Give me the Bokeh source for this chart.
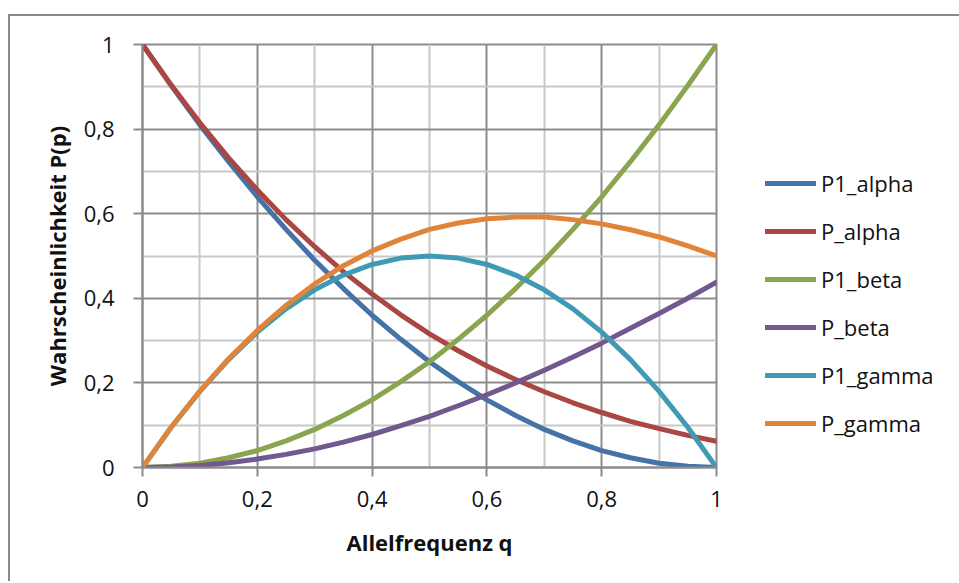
from bokeh.plotting import figure
from bokeh.models import Range1d, FixedTicker, Legend, LegendItem
from bokeh.embed import file_html
from bokeh.resources import INLINE

# ---------------- data ----------------
q = [0.0, 0.05, 0.1, 0.15, 0.2, 0.25, 0.3, 0.35, 0.4, 0.45, 0.5,
     0.55, 0.6, 0.65, 0.7, 0.75, 0.8, 0.85, 0.9, 0.95, 1.0]

p1_alpha = [1.0, 0.903, 0.81, 0.723, 0.64, 0.563, 0.49, 0.423, 0.36, 0.303, 0.25,
            0.203, 0.16, 0.123, 0.09, 0.063, 0.04, 0.023, 0.01, 0.003, 0.0]
p_alpha = [1.0, 0.904, 0.815, 0.732, 0.656, 0.586, 0.522, 0.463, 0.41, 0.361, 0.316,
           0.276, 0.24, 0.208, 0.179, 0.153, 0.13, 0.109, 0.092, 0.076, 0.062]
p1_beta = [0.0, 0.003, 0.01, 0.023, 0.04, 0.063, 0.09, 0.123, 0.16, 0.203, 0.25,
           0.303, 0.36, 0.423, 0.49, 0.563, 0.64, 0.723, 0.81, 0.903, 1.0]
p_beta = [0.0, 0.001, 0.005, 0.011, 0.02, 0.031, 0.044, 0.06, 0.078, 0.099, 0.121,
          0.146, 0.172, 0.2, 0.23, 0.261, 0.294, 0.329, 0.364, 0.4, 0.438]
p1_gamma = [0.0, 0.095, 0.18, 0.255, 0.32, 0.375, 0.42, 0.455, 0.48, 0.495, 0.5,
            0.495, 0.48, 0.455, 0.42, 0.375, 0.32, 0.255, 0.18, 0.095, 0.0]
p_gamma = [0.0, 0.095, 0.181, 0.257, 0.324, 0.383, 0.434, 0.477, 0.512, 0.54, 0.563,
           0.578, 0.588, 0.592, 0.592, 0.586, 0.576, 0.562, 0.545, 0.524, 0.5]

series_names = ["P1_alpha", "P_alpha", "P1_beta", "P_beta", "P1_gamma", "P_gamma"]
series_values = [p1_alpha, p_alpha, p1_beta, p_beta, p1_gamma, p_gamma]
series_colors = ["#4572A7", "#AA4643", "#89A54E", "#71588F", "#3E9BB3", "#E0843A"]

major_ticks = [0.0, 0.2, 0.4, 0.6, 0.8, 1.0]
minor_ticks = [0.1, 0.3, 0.5, 0.7, 0.9]
tick_labels = ["0", "0,2", "0,4", "0,6", "0,8", "1"]

x_title = "Allelfrequenz q"
y_title = "Wahrscheinlichkeit P(p)"

# ---------------- figure ----------------
FL, FT, FW, FH = 132, 28, 574, 423
FR, FB = 241, 114

p = figure(frame_width=FW, frame_height=FH, output_backend="svg", toolbar_location=None,
           x_range=Range1d(0, 1), y_range=Range1d(0, 1),
           min_border_left=FL, min_border_top=FT,
           min_border_right=FR, min_border_bottom=FB)

# outer chart-area border: only its top and left edges are visible in the crop
p.styles = {"margin-left": "8px", "margin-top": "14px",
            "border-left": "2px solid #898989", "border-top": "2px solid #898989"}

FONT = "Open Sans"
GRID_MAJOR = "#8c8c8c"
GRID_MINOR = "#c8c8c8"

p.background_fill_color = "white"
p.border_fill_color = "white"
p.outline_line_color = GRID_MAJOR
p.outline_line_width = 2

for ax in (p.xaxis[0], p.yaxis[0]):
    ax.ticker = FixedTicker(ticks=major_ticks, minor_ticks=minor_ticks)
    ax.major_label_overrides = {t: l for t, l in zip(major_ticks, tick_labels)}
    ax.axis_line_color = GRID_MAJOR
    ax.axis_line_width = 2
    ax.major_tick_line_color = GRID_MAJOR
    ax.major_tick_line_width = 2
    ax.major_tick_out = 9
    ax.major_tick_in = 0
    ax.minor_tick_line_color = None
    ax.major_label_text_font = FONT
    ax.major_label_text_font_size = "22px"
    ax.major_label_text_color = "#111111"
    ax.axis_label_text_font = FONT
    ax.axis_label_text_font_size = "22px"
    ax.axis_label_text_font_style = "bold"
    ax.axis_label_text_color = "#111111"

p.xaxis[0].axis_label = x_title
p.yaxis[0].axis_label = y_title
p.xaxis[0].major_label_standoff = 14
p.yaxis[0].major_label_standoff = 19
p.xaxis[0].axis_label_standoff = 17
p.yaxis[0].axis_label_standoff = 9

for g in (p.xgrid[0], p.ygrid[0]):
    g.grid_line_color = GRID_MAJOR
    g.grid_line_width = 2
    g.minor_grid_line_color = GRID_MINOR
    g.minor_grid_line_width = 2

renderers = []
for name, vals, col in zip(series_names, series_values, series_colors):
    r = p.line(q, vals, line_color=col, line_width=5,
               line_cap="round", line_join="round")
    renderers.append(r)

legend = Legend(items=[LegendItem(label=n, renderers=[r]) for n, r in zip(series_names, renderers)],
                location=(49, 29), orientation="vertical",
                glyph_width=51, glyph_height=30, label_height=30,
                spacing=18, label_standoff=5, padding=0, margin=0,
                border_line_color=None, background_fill_alpha=0,
                label_text_font=FONT, label_text_font_size="22px",
                label_text_color="#111111")
p.add_layout(legend, "right")

open("out.html", "w").write(file_html(p, INLINE))
